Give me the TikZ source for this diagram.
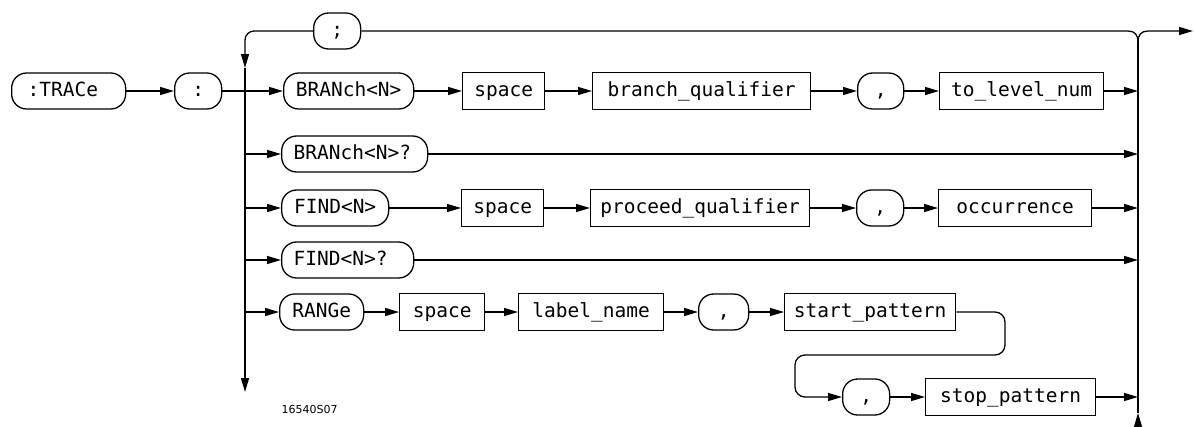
\documentclass[tikz,border=0pt]{standalone}
\usepackage{fontspec}
\setmainfont{DejaVu Sans}
\newfontfamily\plotfont{DejaVu Sans Mono}
\usetikzlibrary{arrows.meta}
\tikzset{
  diagfont/.style={font=\plotfont\fontsize{19.5}{20}\selectfont},
  term/.style={draw, rounded corners=15pt, minimum height=36pt, inner sep=0pt,
    text height=14pt, text depth=4pt, anchor=west, diagfont},
  nterm/.style={draw, rectangle, minimum height=37pt, inner sep=0pt,
    text height=14pt, text depth=4pt, anchor=west, diagfont},
  flow/.style={-{Triangle[length=14pt,width=8pt]}},
}
\begin{document}
\begin{tikzpicture}[x=1pt, y=-1pt, line width=1.3pt]
\useasboundingbox (0,0) rectangle (1194,426);

% ---- nodes of the syntax diagram ----
% row 1
\node[term, minimum width=114pt, text width=82pt, inner xsep=16pt, align=left] (trace) at (11,91) {:TRACe};
\node[term, minimum width=47pt]  (colon)   at (174,91) {:};
\node[term, minimum width=130pt] (branchN) at (283,91) {BRANch<N>};
\node[nterm, minimum width=82pt] (space1)  at (462,91) {space};
\node[nterm, minimum width=218pt] (bq)     at (592,91) {branch\_qualifier};
\node[term, minimum width=46pt]  (comma1)  at (857,91) {,};
\node[nterm, minimum width=164pt] (tln)    at (939,91) {to\_level\_num};
% separator on the loop-back line
\node[term, minimum width=47pt]  (semi)    at (313,31) {;};
% row 2
\node[term, minimum width=146pt, text width=122pt, inner xsep=12pt, align=left] (branchQ) at (281,154) {BRANch<N>?};
% row 3
\node[term, minimum width=107pt] (findN)   at (281,208) {FIND<N>};
\node[nterm, minimum width=82pt] (space2)  at (461,208) {space};
\node[nterm, minimum width=219pt] (pq)     at (590,208) {proceed\_qualifier};
\node[term, minimum width=47pt]  (comma2)  at (856,208) {,};
\node[nterm, minimum width=153pt] (occ)    at (938,208) {occurrence};
% row 4
\node[term, minimum width=132pt, text width=108pt, inner xsep=12pt, align=left] (findQ) at (281,260) {FIND<N>?};
% row 5
\node[term, minimum width=84pt]  (range)   at (279,312) {RANGe};
\node[nterm, minimum width=85pt] (space3)  at (399,312) {space};
\node[nterm, minimum width=145pt] (label)  at (518,312) {label\_name};
\node[term, minimum width=50pt]  (comma3)  at (698,312) {,};
\node[nterm, minimum width=171pt] (start)  at (784,312) {start\_pattern};
% row 6
\node[term, minimum width=47pt]  (comma4)  at (842,397) {,};
\node[nterm, minimum width=170pt] (stop)   at (925,397) {stop\_pattern};
% figure number
\node[font=\fontsize{11}{12}\selectfont, anchor=west, inner sep=0pt] (fignum) at (281,409) {16540S07};

% ---- junction points ----
\coordinate (Ltop) at (245,31);
\coordinate (Lmid) at (245,68);
\coordinate (Lbot) at (245,392);
\coordinate (L2) at (245,154);
\coordinate (L3) at (245,208);
\coordinate (L4) at (245,260);
\coordinate (L5) at (245,312);
\coordinate (R1) at (1138,91);
\coordinate (R2) at (1138,154);
\coordinate (R3) at (1138,208);
\coordinate (R4) at (1138,260);
\coordinate (R6) at (1138,397);
\coordinate (Rj) at (1138,42);
\coordinate (Rbot) at (1138,427);
\coordinate (Rup) at (1138,413);
\coordinate (Tl) at (1128,31);
\coordinate (Tr) at (1148,31);
\coordinate (Exit) at (1193,31);
\coordinate (La) at (1005,355);
\coordinate (Lb) at (795,355);

% ---- left collector and loop-back ----
\draw[flow, rounded corners=9pt] (semi) -- (Ltop) -- (Lmid);
\draw[flow] (Lmid) -- (Lbot);
\draw (Rj) .. controls +(0,-7) and +(7,0) .. (Tl) -- (semi);

% ---- right collector and exit ----
\draw[flow] (Rbot) -- (Rup);
\draw (Rup) -- (Rj);
\draw[flow] (Rj) .. controls +(0,-7) and +(-7,0) .. (Tr) -- (Exit);

% ---- row 1 ----
\draw[flow] (trace) -- (colon);
\draw[flow] (colon) -- (branchN);
\draw[flow] (branchN) -- (space1);
\draw[flow] (space1) -- (bq);
\draw[flow] (bq) -- (comma1);
\draw[flow] (comma1) -- (tln);
\draw[flow] (tln) -- (R1);
% ---- row 2 ----
\draw[flow] (L2) -- (branchQ);
\draw[flow] (branchQ) -- (R2);
% ---- row 3 ----
\draw[flow] (L3) -- (findN);
\draw[flow] (findN) -- (space2);
\draw[flow] (space2) -- (pq);
\draw[flow] (pq) -- (comma2);
\draw[flow] (comma2) -- (occ);
\draw[flow] (occ) -- (R3);
% ---- row 4 ----
\draw[flow] (L4) -- (findQ);
\draw[flow] (findQ) -- (R4);
% ---- row 5 and 6 ----
\draw[flow] (L5) -- (range);
\draw[flow] (range) -- (space3);
\draw[flow] (space3) -- (label);
\draw[flow] (label) -- (comma3);
\draw[flow] (comma3) -- (start);
\draw[flow, rounded corners=10pt] (start.east) -| (La) -- (Lb) |- (comma4.west);
\draw[flow] (comma4) -- (stop);
\draw[flow] (stop) -- (R6);
\end{tikzpicture}
\end{document}
